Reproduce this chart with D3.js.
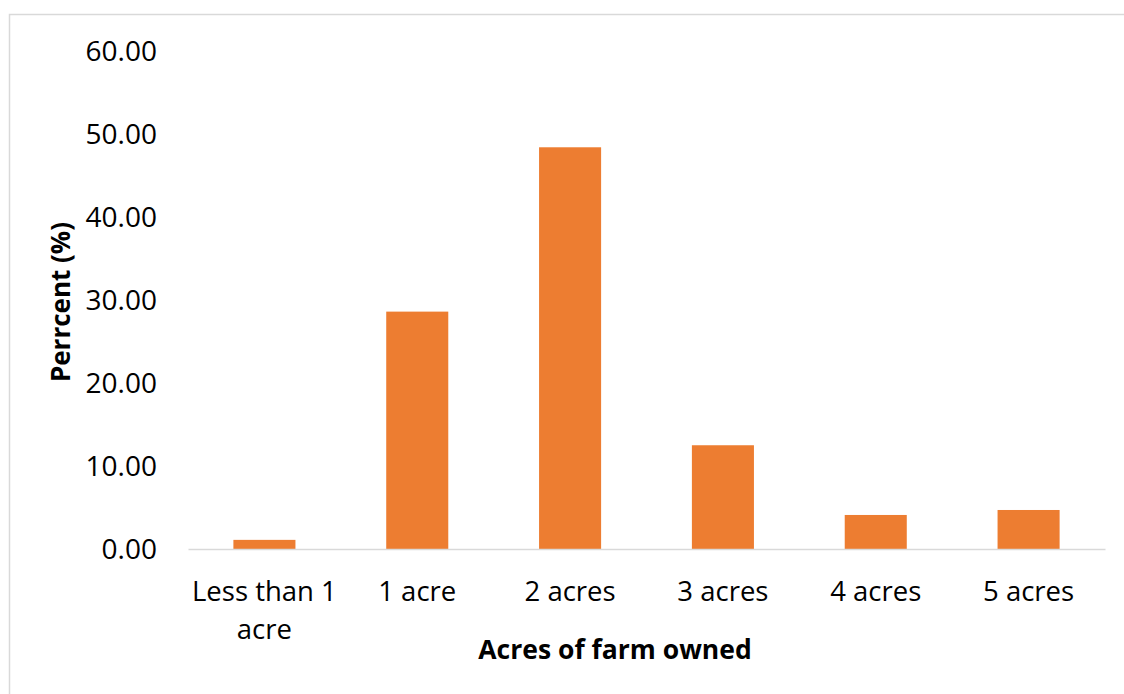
<!DOCTYPE html>
<html><head><meta charset="utf-8">
<script src="https://cdn.jsdelivr.net/npm/d3@7"></script>
<style>html,body{margin:0;padding:0;background:#fff;}svg{display:block;}</style>
</head><body>
<script>
const categories = ["Less than 1 acre", "1 acre", "2 acres", "3 acres", "4 acres", "5 acres"];
const categoryLines = [["Less than 1", "acre"], ["1 acre"], ["2 acres"], ["3 acres"], ["4 acres"], ["5 acres"]];
const values = [1.1, 28.6, 48.4, 12.5, 4.1, 4.7];
const yTicks = [0, 10, 20, 30, 40, 50, 60];
const yTitle = "Perrcent (%)";
const xTitle = "Acres of farm owned";

const W = 1124, H = 694;
const font = "'Open Sans', sans-serif";
const svg = d3.select("body").append("svg").attr("width", W).attr("height", H);
svg.append("rect").attr("width", W).attr("height", H).attr("fill", "#fff");
svg.append("rect").attr("x", 9.5).attr("y", 14.5).attr("width", 1120).attr("height", 690)
  .attr("fill", "none").attr("stroke", "#d9d9d9").attr("stroke-width", 1.5);

const x = d3.scaleBand().domain(categories).range([188, 1105]).paddingInner(0.594).paddingOuter(0.297);
const y = d3.scaleLinear().domain([0, 60]).range([549, 51]);

// bars
svg.append("g").selectAll("rect").data(values).join("rect")
  .attr("x", (d, i) => x(categories[i]))
  .attr("y", d => y(d))
  .attr("width", x.bandwidth())
  .attr("height", d => y(0) - y(d))
  .attr("fill", "#ED7D31");

// baseline
const xAxis = d3.axisBottom(x).tickSize(0).tickFormat("");
const gx = svg.append("g").attr("transform", `translate(0,${y(0)})`).call(xAxis);
gx.select(".domain").attr("stroke", "#d9d9d9").attr("stroke-width", 1.5);

// category labels
const labels = svg.append("g").selectAll("text").data(categories).join("text")
  .attr("x", d => x(d) + x.bandwidth() / 2)
  .attr("y", 601)
  .attr("text-anchor", "middle")
  .attr("font-family", font).attr("font-size", 27.5).attr("fill", "#000");
labels.each(function(d, i) {
  const t = d3.select(this);
  categoryLines[i].forEach((line, j) => {
    t.append("tspan").attr("x", x(d) + x.bandwidth() / 2).attr("dy", j === 0 ? 0 : 38).text(line);
  });
});

// y axis
const yAxis = d3.axisLeft(y).tickValues(yTicks).tickSize(0).tickPadding(0).tickFormat(d3.format(".2f"));
const gy = svg.append("g").attr("transform", "translate(157,0)").call(yAxis);
gy.select(".domain").remove();
gy.selectAll("text").attr("font-family", font).attr("font-size", 28).attr("fill", "#000").attr("dy", "0.35em");

// titles
svg.append("text").attr("transform", "translate(70,302) rotate(-90)").attr("text-anchor", "middle")
  .attr("font-family", font).attr("font-size", 26).attr("font-weight", "bold").attr("fill", "#000").text(yTitle);
svg.append("text").attr("x", 615).attr("y", 659).attr("text-anchor", "middle")
  .attr("font-family", font).attr("font-size", 26.5).attr("font-weight", "bold").attr("fill", "#000").text(xTitle);
</script>
</body></html>
